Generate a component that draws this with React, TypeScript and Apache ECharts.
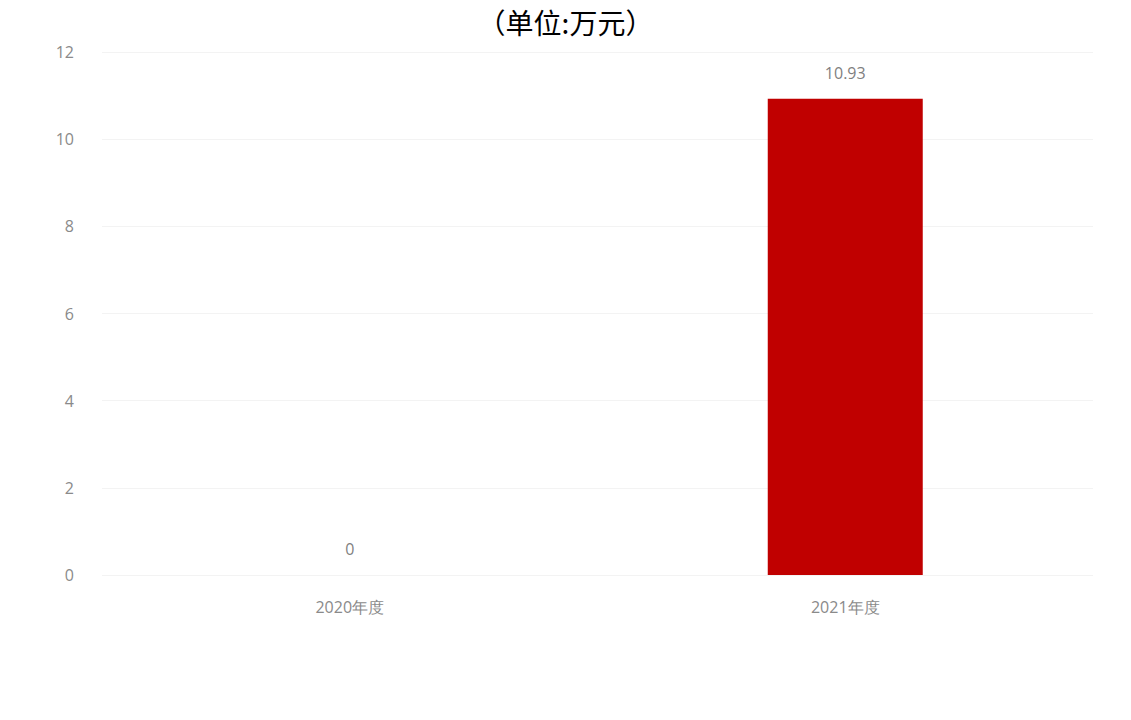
import React, { useEffect, useRef } from "react";
import * as echarts from "echarts";

const categories = ["2020年度", "2021年度"];
const values = [0, 10.93];
const titleText = "（单位:万元）";

export default function App() {
  const ref = useRef<HTMLDivElement>(null);
  useEffect(() => {
    const chart = echarts.init(ref.current!, null, { renderer: "svg" });
    chart.setOption({
      animation: false,
      backgroundColor: "#ffffff",
      title: {
        text: titleText,
        left: "center",
        top: 8,
        padding: 0,
        textStyle: {
          fontSize: 28,
          fontWeight: "normal",
          color: "#000000",
          fontFamily: "Noto Sans CJK SC",
        },
      },
      grid: { left: 102, right: 38, top: 52, bottom: 145 },
      xAxis: {
        type: "category",
        data: categories,
        axisLine: { show: false },
        axisTick: { show: false },
        axisLabel: { color: "#8a8a8a", fontSize: 16, margin: 24, fontFamily: "Open Sans" },
      },
      yAxis: {
        type: "value",
        min: 0,
        max: 12,
        interval: 2,
        axisLine: { show: false },
        axisTick: { show: false },
        axisLabel: { color: "#8a8a8a", fontSize: 16, margin: 28, fontFamily: "Open Sans" },
        splitLine: { lineStyle: { color: "#f3f3f3", width: 1 } },
      },
      series: [
        {
          type: "bar",
          data: values,
          barWidth: 155,
          itemStyle: { color: "#c00000" },
          label: {
            show: true,
            position: "top",
            distance: 18,
            color: "#7f7f7f",
            fontSize: 16,
            fontFamily: "Open Sans",
          },
        },
      ],
    });
    return () => chart.dispose();
  }, []);
  return (
    <div
      ref={ref}
      style={{ position: "fixed", left: 0, top: 0, width: 1131, height: 720 }}
    />
  );
}
